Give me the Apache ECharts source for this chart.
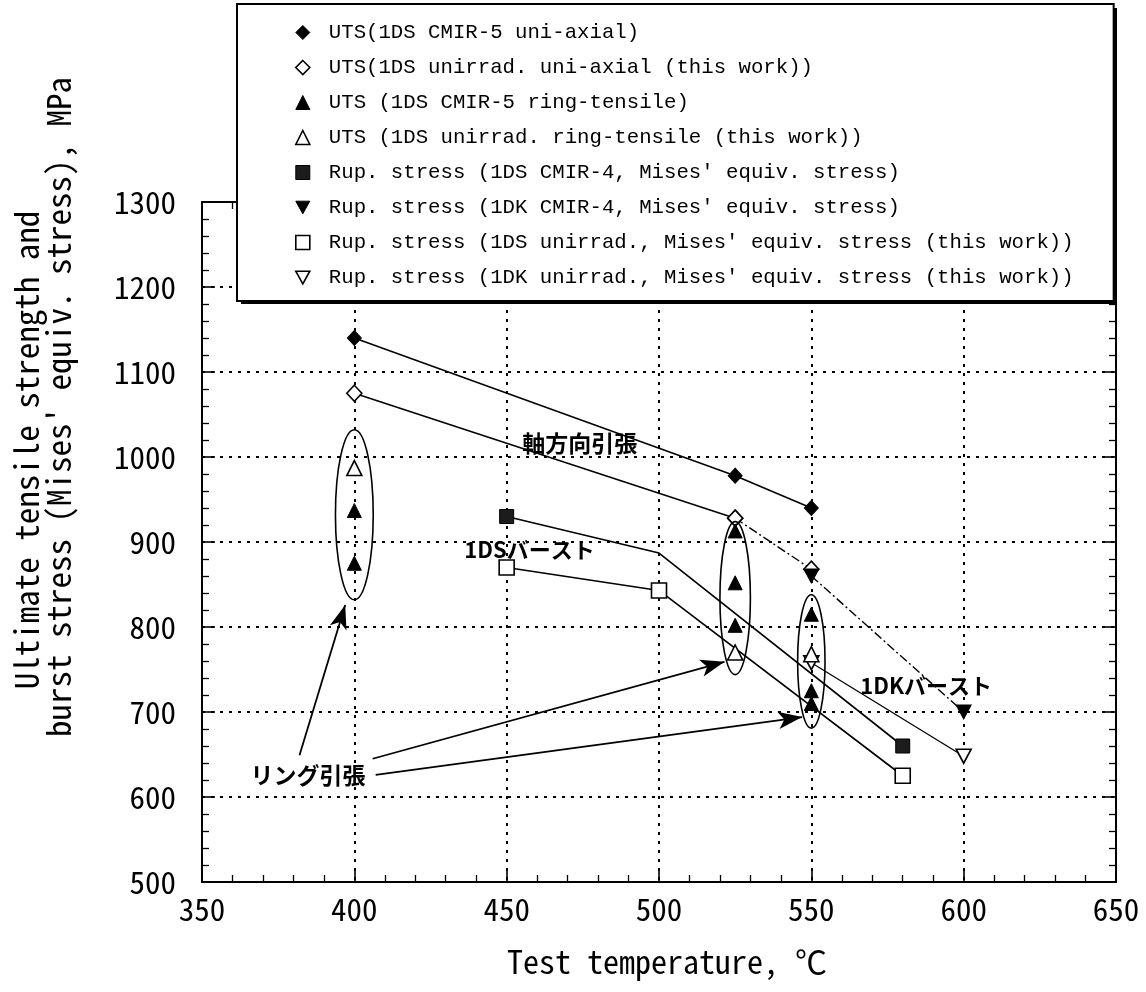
<!DOCTYPE html>
<html>
<head>
<meta charset="utf-8">
<script src="https://cdn.jsdelivr.net/npm/echarts@6/dist/echarts.min.js"></script>
<style>
  html, body { margin: 0; padding: 0; background: #fff; }
  #chart { width: 1146px; height: 992px; }
</style>
</head>
<body>
<div id="chart"></div>
<script>
// Fonts
const MONO = "'Noto Sans Mono CJK JP', 'Liberation Mono', 'DejaVu Sans Mono', monospace";
const LEGEND_FONT = "'Liberation Mono', 'DejaVu Sans Mono', monospace";
const JP = "'Noto Sans CJK JP', 'Noto Sans CJK SC', sans-serif";

// Axes
const tempMin = 350, tempMax = 650, tempStep = 50;
const stressMin = 500, stressMax = 1300, stressStep = 100;

// Series names
const names = [
  "UTS(1DS CMIR-5 uni-axial)",
  "UTS(1DS unirrad. uni-axial (this work))",
  "UTS (1DS CMIR-5 ring-tensile)",
  "UTS (1DS unirrad. ring-tensile (this work))",
  "Rup. stress (1DS CMIR-4, Mises' equiv. stress)",
  "Rup. stress (1DK CMIR-4, Mises' equiv. stress)",
  "Rup. stress (1DS unirrad., Mises' equiv. stress (this work))",
  "Rup. stress (1DK unirrad., Mises' equiv. stress (this work))"
];

// UTS, uni-axial tests
const utsCmirUniT = [400, 525, 550];
const utsCmirUniV = [1140, 978, 940];
const utsUnirrUniT = [400, 525, 550];
const utsUnirrUniV = [1075, 928, 868];

// UTS, ring-tensile tests
const ringCmirT = [400, 400, 525, 525, 525, 550, 550, 550];
const ringCmirV = [937, 875, 913, 852, 802, 815, 725, 710];
const ringUnirrT = [400, 525, 550];
const ringUnirrV = [987, 770, 768];

// Burst rupture stress (Mises' equivalent)
const rup1dsCmirT = [450, 500, 580];
const rup1dsCmirV = [930, 887, 660];
const rup1dsCmirMarked = [true, false, true];
const rup1dkCmirT = [550, 600];
const rup1dkCmirV = [860, 700];
const rup1dsUnirrT = [450, 500, 580];
const rup1dsUnirrV = [870, 843, 625];
const rup1dkUnirrT = [550, 600];
const rup1dkUnirrV = [758, 648];

// Ring-tensile groups (temperature, stress range enclosed)
const ringGroupT = [400, 525, 550];
const ringGroupLo = [832, 744, 681];
const ringGroupHi = [1032, 924, 838];

// Callout labels and arrows (data coordinates)
const noteText = ['軸方向引張', '1DSバースト', '1DKバースト', 'リング引張'];
const noteAt = [[474, 1016], [457.5, 890.6], [587.7, 730.6], [384.8, 625.9]];
const arrowFrom = [[382, 649], [406, 645], [407, 626]];
const arrowTo = [[397, 826], [521.5, 759], [547, 694]];

const pairs = (xs, ys) => xs.map((x, i) => [x, ys[i]]);

const INV_TRI = 'path://M0,0 L10,0 L5,9 Z';
const filled = { color: '#000', borderColor: '#000', borderWidth: 1, opacity: 1 };
const hollow = { color: '#fff', borderColor: '#000', borderWidth: 1.6, opacity: 1 };
const solidLine = { color: '#000', width: 1.6, type: 'solid' };
const dashDot = { color: '#000', width: 1.4, type: [9, 3, 2, 3] };

const symbolOf = [
  { icon: 'diamond', style: filled },
  { icon: 'diamond', style: hollow },
  { icon: 'triangle', style: filled },
  { icon: 'triangle', style: hollow },
  { icon: 'rect', style: { color: '#1c1c1c', borderColor: '#000', borderWidth: 1, opacity: 1 } },
  { icon: INV_TRI, style: filled },
  { icon: 'rect', style: hollow },
  { icon: INV_TRI, style: hollow }
];

function lineSeries(idx, data, lineStyle, size) {
  return {
    name: names[idx], type: 'line', data: data,
    symbol: symbolOf[idx].icon, symbolSize: size,
    itemStyle: symbolOf[idx].style, lineStyle: lineStyle,
    showAllSymbol: true, z: 2
  };
}

const uniUnirr = pairs(utsUnirrUniT, utsUnirrUniV);
const rup1dsCmir = pairs(rup1dsCmirT, rup1dsCmirV).map((p, i) =>
  rup1dsCmirMarked[i] ? p : { value: p, symbol: 'none' });

const series = [
  lineSeries(0, pairs(utsCmirUniT, utsCmirUniV), solidLine, [14, 15]),
  lineSeries(1, uniUnirr.slice(0, 2), solidLine, [15, 16]),
  lineSeries(1, uniUnirr.slice(1), dashDot, [15, 16]),
  {
    name: names[2], type: 'scatter', data: pairs(ringCmirT, ringCmirV),
    symbol: 'triangle', symbolSize: [14, 14], itemStyle: filled, z: 4
  },
  {
    name: names[3], type: 'scatter', data: pairs(ringUnirrT, ringUnirrV),
    symbol: 'triangle', symbolSize: [15, 15], itemStyle: hollow, z: 4
  },
  lineSeries(4, rup1dsCmir, solidLine, [14, 14]),
  lineSeries(5, pairs(rup1dkCmirT, rup1dkCmirV), dashDot, [15, 14]),
  lineSeries(6, pairs(rup1dsUnirrT, rup1dsUnirrV), solidLine, [15, 15]),
  lineSeries(7, pairs(rup1dkUnirrT, rup1dkUnirrV), { color: '#000', width: 1.3 }, [15, 14]),
  {
    name: 'arrows', type: 'line', data: [], silent: true,
    markLine: {
      silent: true, animation: false,
      symbol: ['none', 'arrow'], symbolSize: [13, 24],
      lineStyle: { color: '#000', width: 1.8, type: 'solid' },
      itemStyle: { color: '#000' },
      label: { show: false },
      emphasis: { disabled: true },
      data: arrowFrom.map((f, i) => [{ coord: f }, { coord: arrowTo[i] }])
    }
  }
];

const tickStyle = { show: true, inside: true, length: 13, lineStyle: { color: '#000', width: 1.6 } };
const minorStyle = { show: true, splitNumber: 5, length: 7, lineStyle: { color: '#000', width: 1.3 } };
const axisLine = { show: true, onZero: false, lineStyle: { color: '#000', width: 2 } };
const gridDots = { show: true, lineStyle: { color: '#000', width: 2, type: [3, 6] } };
const tickFont = { color: '#000', fontFamily: MONO, fontSize: 31, formatter: v => String(v) };

const chart = echarts.init(document.getElementById('chart'), null, { renderer: 'canvas' });

chart.setOption({
  animation: false,
  backgroundColor: '#fff',
  grid: { left: 202, right: 30, top: 202, bottom: 110, containLabel: false },
  legend: {
    orient: 'vertical', left: 237, top: 4,
    padding: [18, 40, 13, 58],
    itemGap: 14, itemWidth: 14, itemHeight: 14,
    backgroundColor: '#fff', borderColor: '#000', borderWidth: 2,
    selectedMode: false, z: 10,
    textStyle: { fontFamily: LEGEND_FONT, fontSize: 20.7, lineHeight: 20, color: '#000', padding: [0, 0, 0, 14] },
    data: names.map((n, i) => ({ name: n, icon: symbolOf[i].icon, itemStyle: symbolOf[i].style }))
  },
  xAxis: [
    {
      type: 'value', min: tempMin, max: tempMax, interval: tempStep,
      axisLine: axisLine, axisTick: tickStyle, minorTick: minorStyle,
      splitLine: gridDots,
      axisLabel: Object.assign({ margin: 12 }, tickFont),
      name: 'Test temperature, ℃', nameLocation: 'middle', nameGap: 64,
      nameTextStyle: { color: '#000', fontFamily: MONO, fontSize: 32, padding: [0, 0, 0, 16] }
    },
    {
      type: 'value', position: 'top', min: tempMin, max: tempMax, interval: tempStep,
      axisLine: axisLine, axisTick: tickStyle, minorTick: minorStyle,
      axisLabel: { show: false }, splitLine: { show: false }
    }
  ],
  yAxis: [
    {
      type: 'value', min: stressMin, max: stressMax, interval: stressStep,
      axisLine: axisLine, axisTick: tickStyle, minorTick: minorStyle,
      splitLine: gridDots,
      axisLabel: Object.assign({ margin: 26 }, tickFont)
    },
    {
      type: 'value', position: 'right', min: stressMin, max: stressMax, interval: stressStep,
      axisLine: axisLine, axisTick: tickStyle, minorTick: minorStyle,
      axisLabel: { show: false }, splitLine: { show: false }
    }
  ],
  series: series
});

// Ellipses around ring-tensile groups, callout text, legend drop shadow
// and the two-line y-axis title
const px = v => chart.convertToPixel({ gridIndex: 0 }, v);
const halfWidthT = [6.2, 5.0, 4.5];
const graphics = [];

// drop shadow behind the legend box (right and bottom edges)
graphics.push({
  type: 'rect', z: 9, silent: true,
  shape: { x: 241, y: 8, width: 876, height: 296 },
  style: { fill: '#000' }
});

ringGroupT.forEach((t, i) => {
  const top = px([t, ringGroupHi[i]]);
  const bot = px([t, ringGroupLo[i]]);
  const side = px([t + halfWidthT[i], ringGroupLo[i]]);
  graphics.push({
    type: 'ellipse', z: 5, silent: true,
    shape: { cx: top[0], cy: (top[1] + bot[1]) / 2, rx: side[0] - top[0], ry: (bot[1] - top[1]) / 2 },
    style: { fill: null, stroke: '#000', lineWidth: 1.6 }
  });
});

noteText.forEach((txt, i) => {
  const p = px(noteAt[i]);
  graphics.push({
    type: 'text', z: 6, silent: true, x: p[0], y: p[1],
    style: {
      text: txt, fontFamily: JP, fontWeight: 'bold', fontSize: i === 1 || i === 2 ? 22 : 23, fill: '#000',
      align: 'center', verticalAlign: 'middle'
    }
  });
});

graphics.push({
  type: 'text', z: 6, silent: true, x: 26, y: 450, rotation: Math.PI / 2,
  style: { text: 'Ultimate tensile strength and', fontFamily: MONO, fontSize: 33, fill: '#000', align: 'center', verticalAlign: 'middle' }
});
graphics.push({
  type: 'text', z: 6, silent: true, x: 58, y: 407, rotation: Math.PI / 2,
  style: { text: "burst stress (Mises' equiv. stress), MPa", fontFamily: MONO, fontSize: 33, fill: '#000', align: 'center', verticalAlign: 'middle' }
});

chart.setOption({ graphic: graphics });
</script>
</body>
</html>
